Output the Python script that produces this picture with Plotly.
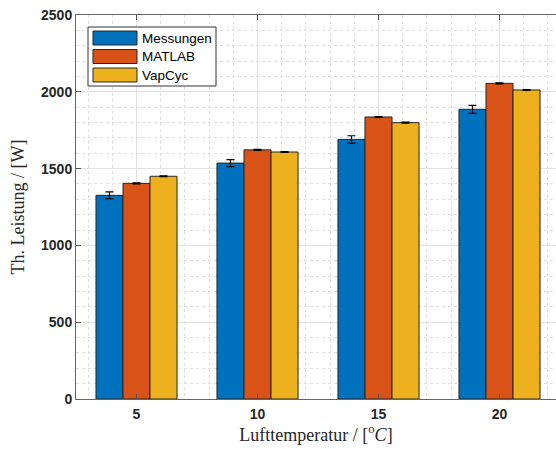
import plotly.graph_objects as go

# Heating power per air temperature: measurement vs. two simulation models
temperatures = [5, 10, 15, 20]
series_names = ["Messungen", "MATLAB", "VapCyc"]
messungen = [1326, 1536, 1690, 1886]
messungen_err = [22, 23, 24, 26]
matlab = [1404, 1622, 1836, 2055]
matlab_err = [3, 3, 3, 3]
vapcyc = [1450, 1608, 1799, 2012]
vapcyc_err = [3, 3, 3, 3]
colors = ["#0072BD", "#D95319", "#EDB120"]

W, H = 556, 449
ML, MR, MT, MB = 76, 0, 15, 50
PW, PH = W - ML - MR, H - MT - MB


def px(x):
    return (x - ML) / PW


def py(y):
    return 1 - (y - MT) / PH


fig = go.Figure()
for name, vals, errs, col in zip(series_names,
                                 [messungen, matlab, vapcyc],
                                 [messungen_err, matlab_err, vapcyc_err],
                                 colors):
    fig.add_trace(go.Bar(
        x=temperatures, y=vals, name=name,
        marker=dict(color=col, line=dict(color="#262626", width=1)),
        error_y=dict(type="data", array=errs, visible=True,
                     color="#000000", thickness=1.2, width=4),
        showlegend=False,
    ))

axis_font = dict(family="Liberation Sans, Arial", size=14, color="#262626", weight="bold")
title_font = dict(family="Liberation Serif, Times New Roman", size=18, color="#262626")

fig.update_layout(
    width=W, height=H,
    margin=dict(l=ML, r=MR, t=MT, b=MB, pad=0),
    paper_bgcolor="white", plot_bgcolor="white",
    barmode="group", bargap=0.33, bargroupgap=0,
    showlegend=False,
    xaxis=dict(
        range=[2.5, 2.5 + PW / 24.2],
        tickmode="linear", tick0=0, dtick=5,
        ticks="inside", ticklen=5, tickcolor="#555555",
        showline=True, linecolor="#666666", linewidth=1, mirror="ticks",
        showgrid=True, gridcolor="#e2e2e2", gridwidth=1,
        zeroline=False,
        minor=dict(tickmode="linear", tick0=0, dtick=1, showgrid=True,
                   griddash="dot", gridcolor="#dedede", gridwidth=1, ticks=""),
        tickfont=axis_font, ticklabelstandoff=2,
        title=dict(text="Lufttemperatur / [<sup>o</sup><i>C</i>]",
                   font=title_font, standoff=7),
    ),
    yaxis=dict(
        range=[0, 2500],
        tickmode="linear", tick0=0, dtick=500,
        ticks="inside", ticklen=5, tickcolor="#555555",
        showline=True, linecolor="#666666", linewidth=1, mirror=False,
        showgrid=True, gridcolor="#e2e2e2", gridwidth=1,
        zeroline=False,
        minor=dict(tickmode="linear", tick0=0, dtick=100, showgrid=True,
                   griddash="dot", gridcolor="#dedede", gridwidth=1, ticks=""),
        tickfont=axis_font,
        title=dict(text="Th. Leistung / [W]", font=title_font, standoff=11),
    ),
)

# Legend box with wide colour patches
shapes = [dict(type="rect", xref="paper", yref="paper",
               x0=px(88), x1=px(216), y0=py(86), y1=py(27),
               line=dict(color="#333333", width=1), fillcolor="white", layer="above")]
annotations = []
row_tops = [31, 49.5, 68]
for name, col, top in zip(series_names, colors, row_tops):
    shapes.append(dict(type="rect", xref="paper", yref="paper",
                       x0=px(93), x1=px(137), y0=py(top + 14), y1=py(top),
                       line=dict(color="#262626", width=1), fillcolor=col, layer="above"))
    annotations.append(dict(xref="paper", yref="paper", x=px(140), y=py(top + 7),
                            text=name, showarrow=False, xanchor="left", yanchor="middle",
                            font=dict(family="Liberation Sans, Arial", size=13.5, color="#000000")))
fig.update_layout(shapes=shapes, annotations=annotations)

fig.write_html("out.html")
